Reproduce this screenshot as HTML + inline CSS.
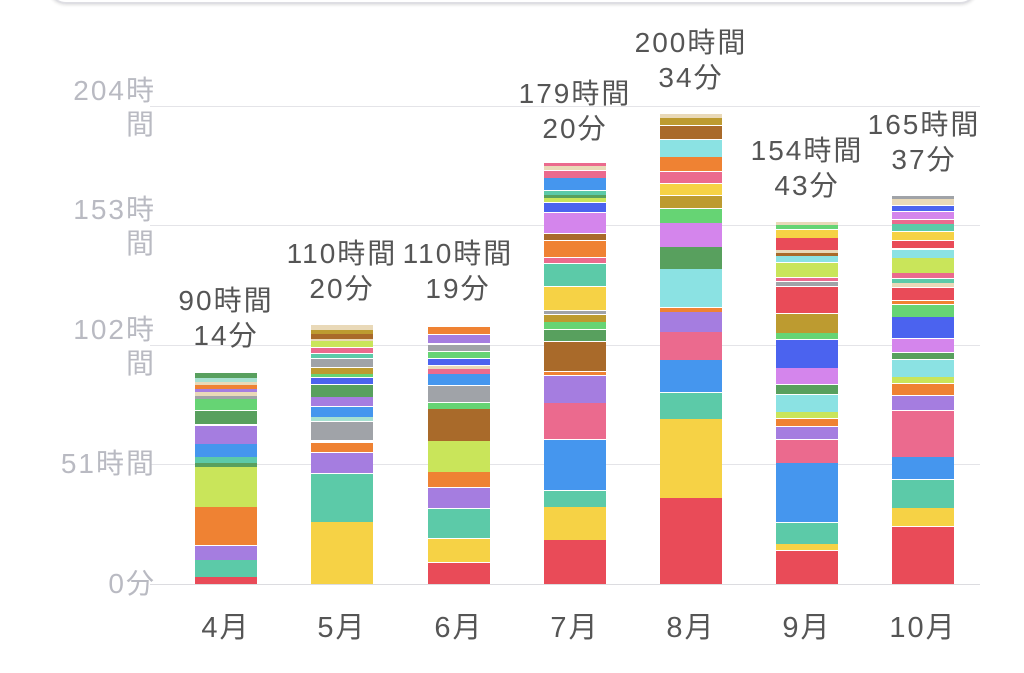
<!DOCTYPE html>
<html><head><meta charset="utf-8"><style>
body{margin:0;width:1024px;height:673px;background:#fff;position:relative;overflow:hidden;font-family:"Liberation Sans","Noto Sans CJK JP",sans-serif}
.card{position:absolute;left:48px;top:-40px;width:926px;height:40px;border:2px solid #dedee3;border-radius:18px;box-shadow:0 1px 3px #ddd}
.g{position:absolute;left:150px;width:830px;height:1px;background:#e4e4e8}
.y{position:absolute;right:868px;color:#b9bac2;font-size:28px;line-height:34px;text-align:right;letter-spacing:2px}
.m{position:absolute;top:604px;color:#555;font-size:29px;width:120px;text-align:center;letter-spacing:2px}
.l{position:absolute;color:#555;font-size:28px;line-height:35px;width:180px;text-align:center;letter-spacing:2px}
.s{position:absolute}
</style></head><body>
<div class="card"></div>
<div class="g" style="top:106px"></div><div class="g" style="top:225px"></div><div class="g" style="top:345px"></div><div class="g" style="top:464px"></div><div class="g" style="top:584px;background:#dcdce0"></div>
<div class="y" style="top:74px">204時<br>間</div>
<div class="y" style="top:193px">153時<br>間</div>
<div class="y" style="top:313px">102時<br>間</div>
<div class="y" style="top:447px">51時間</div>
<div class="y" style="top:567px">0分</div>
<div class="m" style="left:166px">4月</div><div class="m" style="left:282px">5月</div><div class="m" style="left:399px">6月</div><div class="m" style="left:515px">7月</div><div class="m" style="left:631px">8月</div><div class="m" style="left:747px">9月</div><div class="m" style="left:863px">10月</div>
<div class="l" style="left:136px;top:283px">90時間<br>14分</div>
<div class="l" style="left:252px;top:236px">110時間<br>20分</div>
<div class="l" style="left:368px;top:236px">110時間<br>19分</div>
<div class="l" style="left:485px;top:76px">179時間<br>20分</div>
<div class="l" style="left:601px;top:25px">200時間<br>34分</div>
<div class="l" style="left:717px;top:133px">154時間<br>43分</div>
<div class="l" style="left:834px;top:107px">165時間<br>37分</div>
<div id="bars"></div>
<script>
var C={r:"#e94b58",y:"#f6d245",t:"#5ccaa8",b:"#4596ee",p:"#eb6a8e",u:"#a57de0",w:"#a96a2a",o:"#ef8233",l:"#c9e55a",g:"#58a05e",G:"#66d474",O:"#bd9b30",v:"#d485ec",c:"#8be2e3",R:"#4b63ef",a:"#a0a3a8",e:"#e9d9b8",T:"#a6e0d0"};
var D=[
[195,"r577583 t560576 u546559 o507544 l467506 g463466 t457462 b444456 u426443 g411423 G405409 G399404 a396398 e392395 u389391 o385388 e382384 T378381 g373377"],
[311,"y522583 t474521 u453472 o443451 a422439 T417420 b407416 u397405 g385396 R378383 G374376 O368373 a359366 t354357 p348352 l341346 e339340 w334338 O330333 e325329"],
[428,"r563583 y539561 t509537 u488507 o472486 l441471 w409440 G403408 a386401 b374384 p369373 e366368 R359364 G352357 a345350 u335342 o327333"],
[544,"r540583 y507539 t491506 b440489 p403438 u376402 o372374 w342370 g330340 G322328 O315321 a311313 y287309 t264285 p258262 o241256 w234239 v213232 R203211 l198201 g195197 t191194 b178189 p171177 e166169 p163165"],
[660,"r498583 y419497 t393418 b360391 p332359 u312331 o308311 c269306 g247268 v223246 G209222 O196207 y184194 p172182 o157170 c140156 w126138 O118124 e114117"],
[776,"r551583 y544549 t523543 b463521 p440462 u427438 o419425 l412417 c395411 g385393 v368383 R340367 G333338 O314332 r287312 a282285 p278280 l263276 c256261 w253255 e250252 r238249 y230237 G225228 e222224"],
[892,"r527583 y508525 t480507 b457478 p411456 u396409 o384394 l377382 c360376 g353358 v339351 R317337 G305316 o301303 r288299 e283286 t279282 p273277 l258272 c250257 r241247 y232239 t224230 p220223 v212218 R206210 e199204 a196198"]];
var h="";D.forEach(function(d){d[1].split(" ").forEach(function(s){var c=C[s[0]],t=+s.substr(1,3),b=+s.substr(4,3);h+='<div class="s" style="left:'+d[0]+'px;width:62px;top:'+t+'px;height:'+(b-t+1)+'px;background:'+c+'"></div>';});});
document.getElementById("bars").innerHTML=h;
</script>
</body></html>
